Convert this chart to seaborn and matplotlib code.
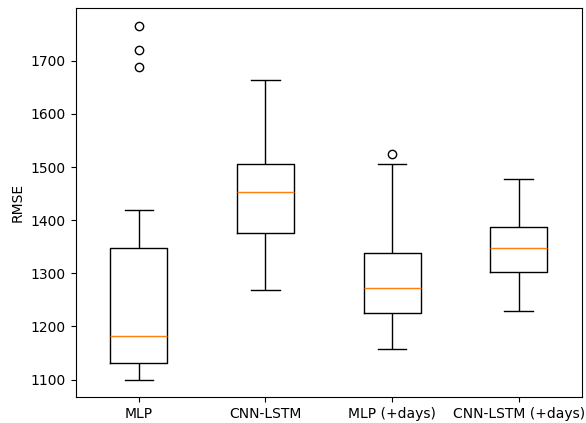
import numpy as np
import pandas as pd
import matplotlib
matplotlib.use("Agg")
import matplotlib.pyplot as plt
import seaborn as sns

# model names (x tick labels)
models = ["MLP", "CNN-LSTM", "MLP (+days)", "CNN-LSTM (+days)"]

# RMSE per run
mlp = [1100, 1104, 1112, 1119, 1126, 1131, 1140, 1152, 1163, 1174, 1181,
       1205, 1238, 1272, 1310, 1347, 1385, 1420, 1689, 1720, 1766]
cnn_lstm = [1268, 1301, 1330, 1349, 1365, 1376, 1392, 1410, 1425, 1440, 1453,
            1462, 1474, 1485, 1497, 1506, 1521, 1546, 1580, 1619, 1663]
mlp_days = [1157, 1178, 1193, 1205, 1216, 1225, 1236, 1245, 1254, 1264, 1273,
            1281, 1292, 1306, 1321, 1338, 1362, 1399, 1446, 1505, 1524]
cnn_lstm_days = [1229, 1251, 1268, 1280, 1292, 1302, 1312, 1321, 1331, 1340, 1348,
                 1355, 1362, 1370, 1379, 1387, 1398, 1412, 1430, 1452, 1477]

series = [mlp, cnn_lstm, mlp_days, cnn_lstm_days]
df = pd.DataFrame({
    "model": np.repeat(models, [len(s) for s in series]),
    "RMSE": np.concatenate(series),
})

fig, ax = plt.subplots(figsize=(5.86, 4.23), dpi=100)
fig.subplots_adjust(left=0.129, right=0.993, top=0.981, bottom=0.061)

sns.boxplot(data=df, x="model", y="RMSE", order=models, ax=ax,
            fill=False, color="black", width=0.45, linewidth=1,
            medianprops={"color": "#ff7f0e", "linewidth": 1},
            flierprops={"marker": "o", "markersize": 6,
                        "markerfacecolor": "none", "markeredgecolor": "black"})

ax.set_xlabel("")
ax.set_ylabel("RMSE")

fig.savefig("out.png", dpi=100)
